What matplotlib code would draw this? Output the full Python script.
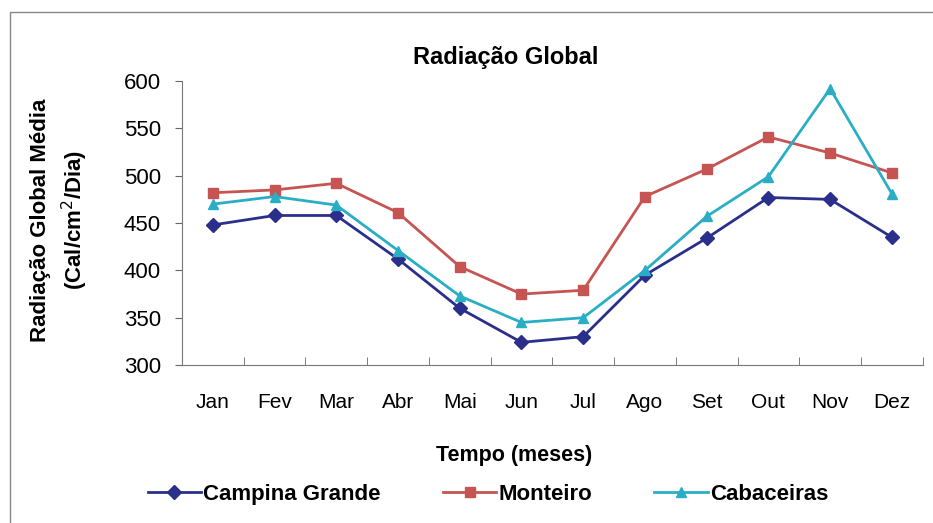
import matplotlib
matplotlib.use("Agg")
import matplotlib.pyplot as plt
from matplotlib.patches import Rectangle

plt.rcParams['font.family'] = ['Liberation Sans', 'DejaVu Sans']

# ---------------- DATA ----------------
months = ["Jan", "Fev", "Mar", "Abr", "Mai", "Jun", "Jul", "Ago", "Set", "Out", "Nov", "Dez"]
campina_grande = [448, 458, 458, 412, 360, 324, 330, 395, 434, 477, 475, 435]
monteiro = [482, 485, 492, 461, 404, 375, 379, 478, 507, 541, 524, 503]
cabaceiras = [470, 478, 469, 421, 373, 345, 350, 400, 457, 499, 592, 481]

series_names = ["Campina Grande", "Monteiro", "Cabaceiras"]
colors = ["#2a2f8c", "#c65452", "#2aaec6"]
markers = ["D", "s", "^"]

# ---------------- PLOT ----------------
fig = plt.figure(figsize=(9.33, 5.23), dpi=100)
ax = fig.add_axes([0.195, 0.302, 0.794, 0.543])

x = range(len(months))
for vals, name, c, m in zip([campina_grande, monteiro, cabaceiras], series_names, colors, markers):
    ax.plot(x, vals, color=c, marker=m, markersize=7.5, linewidth=2, label=name,
            markeredgecolor=c)

ax.set_xlim(-0.5, len(months) - 0.5)
ax.set_ylim(300, 600)
ax.set_yticks(range(300, 601, 50))
ax.set_xticks(list(x))
ax.set_xticklabels(months)
ax.set_xticks([i - 0.5 for i in range(len(months) + 1)], minor=True)
ax.tick_params(axis='x', which='major', length=0, labelsize=15, pad=20)
ax.tick_params(axis='x', which='minor', length=6, direction='in', color='#666666')
ax.tick_params(axis='y', labelsize=16, direction='out', length=5, color='#666666', pad=10)

for s in ['top', 'right']:
    ax.spines[s].set_visible(False)
ax.spines['left'].set_color('#777777')
ax.spines['bottom'].set_color('#777777')

fig.text(0.542, 0.891, "Radiação Global", fontsize=17, fontweight='bold',
         ha='center', va='center')
fig.text(0.551, 0.13, "Tempo (meses)", fontsize=15.5, fontweight='bold',
         ha='center', va='center')
ax.set_ylabel("Radiação Global Média\n(Cal/cm$^2$/Dia)", fontsize=16, fontweight='bold',
              linespacing=1.4)
ax.yaxis.set_label_coords(-0.124, 0.51)

fig.legend(*ax.get_legend_handles_labels(), loc='center', bbox_to_anchor=(0.523, 0.054),
           ncol=3, frameon=False, prop={'weight': 'bold', 'size': 16}, handlelength=2.4,
           columnspacing=2.8, handletextpad=0.1)

# outer chart frame
fig.patches.append(Rectangle((0.011, -0.05), 1.1, 1.027, transform=fig.transFigure,
                             fill=False, edgecolor='#888888', linewidth=1))

fig.savefig("out.png", dpi=100)
